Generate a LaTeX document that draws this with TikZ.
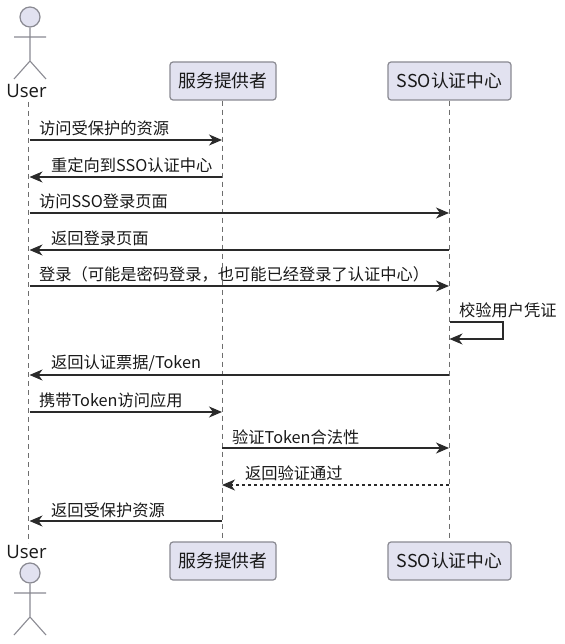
\documentclass[tikz,border=0pt]{standalone}
\usepackage{fontspec}
\setmainfont{Noto Sans CJK SC}
\newfontfamily\latinf{Open Sans}
\usetikzlibrary{arrows.meta}
\definecolor{partfill}{HTML}{E2E2F0}
\definecolor{partline}{HTML}{8A8A92}
\definecolor{lifeln}{HTML}{6E6E6E}
\definecolor{msgln}{HTML}{2A2A2A}
\tikzset{
  x=1pt,y=-1pt,
  part/.style={draw=partline,line width=1.2pt,fill=partfill,rounded corners=3pt,minimum height=38pt,inner xsep=0pt,font=\fontsize{17.8}{20}\selectfont,text=black!90},
  actorname/.style={font=\latinf\fontsize{18.5}{20}\selectfont,text=black!90,inner sep=0pt},
  msgtext/.style={anchor=west,inner sep=0pt,font=\fontsize{16.25}{18}\selectfont,text=black!90},
  lifeline/.style={draw=lifeln,line width=0.9pt,dash pattern=on 5pt off 4pt},
  msg/.style={draw=msgln,line width=1.05pt,-{Stealth[length=13pt,width=11pt,inset=4pt]}},
  reply/.style={msg,dash pattern=on 3pt off 3pt},
  actorbody/.style={draw=partline,line width=1.1pt},
  actorhead/.style={draw=partline,line width=1.2pt,fill=partfill}
}
\begin{document}
\begin{tikzpicture}
\useasboundingbox (0,0) rectangle (564,644);
\fill[white] (0,0) rectangle (564,644);
% lifelines anchors
\coordinate (ua) at (28.5,102); \coordinate (ub) at (28.5,543);
\node[part,minimum width=106pt] (st) at (223,81) {服务提供者};
\node[part,minimum width=123pt] (ct) at (449.5,81) {SSO认证中心};
\node[part,minimum width=106pt] (sb) at (223,561) {服务提供者};
\node[part,minimum width=123pt] (cb) at (449.5,561) {SSO认证中心};
\node[actorname] (ut) at (26.5,91) {User};
\node[actorname] (ub2) at (26.5,552) {User};
\draw[lifeline] (ua) -- (ub);
\draw[lifeline] (st.south -| 222,0) -- (sb.north -| 222,0);
\draw[lifeline] (ct.south -| 449,0) -- (cb.north -| 449,0);
% actors
\node[actorhead,circle,minimum size=20pt,inner sep=0pt] (h1) at (30,17) {};
\coordinate (n1) at (30,61);
\draw[actorbody] (h1.south) -- (n1) (14,37) -- (46,37) (14,79) -- (n1) -- (46,79);
\node[actorhead,circle,minimum size=20pt,inner sep=0pt] (h2) at (30,573) {};
\coordinate (n2) at (30,617);
\draw[actorbody] (h2.south) -- (n2) (14,593) -- (46,593) (14,635) -- (n2) -- (46,635);
% message end points
\foreach \n/\y in {1/140,2/177,3/213,4/250,5/286,7/375,8/412,9/448,10/485,11/521}{
  \coordinate (u\n) at (29.5,\y);
  \coordinate (s\n) at (222,\y);
  \coordinate (c\n) at (449,\y);
}
\draw[msg] (u1) -- (s1);
\draw[msg] (s2) -- (u2);
\draw[msg] (u3) -- (c3);
\draw[msg] (c4) -- (u4);
\draw[msg] (u5) -- (c5);
\coordinate (c6a) at (449.5,322); \coordinate (c6b) at (449.5,339);
\coordinate (c6c) at (503,322); \coordinate (c6d) at (503,339);
\draw[msg] (c6a) -- (c6c) -- (c6d) -- (c6b);
\draw[msg] (c7) -- (u7);
\draw[msg] (u8) -- (s8);
\draw[msg] (s9) -- (c9);
\draw[reply] (c10) -- (s10);
\draw[msg] (s11) -- (u11);
% labels
\node[msgtext] (m1) at (39,128) {访问受保护的资源};
\node[msgtext] (m2) at (51,165) {重定向到SSO认证中心};
\node[msgtext] (m3) at (39,201) {访问SSO登录页面};
\node[msgtext] (m4) at (51,238) {返回登录页面};
\node[msgtext] (m5) at (39,274) {登录（可能是密码登录，也可能已经登录了认证中心）};
\node[msgtext] (m6) at (459,310) {校验用户凭证};
\node[msgtext] (m7) at (51,363) {返回认证票据/Token};
\node[msgtext] (m8) at (39,400) {携带Token访问应用};
\node[msgtext] (m9) at (232,437) {验证Token合法性};
\node[msgtext] (m10) at (245,473) {返回验证通过};
\node[msgtext] (m11) at (51,510) {返回受保护资源};
\end{tikzpicture}
\end{document}
